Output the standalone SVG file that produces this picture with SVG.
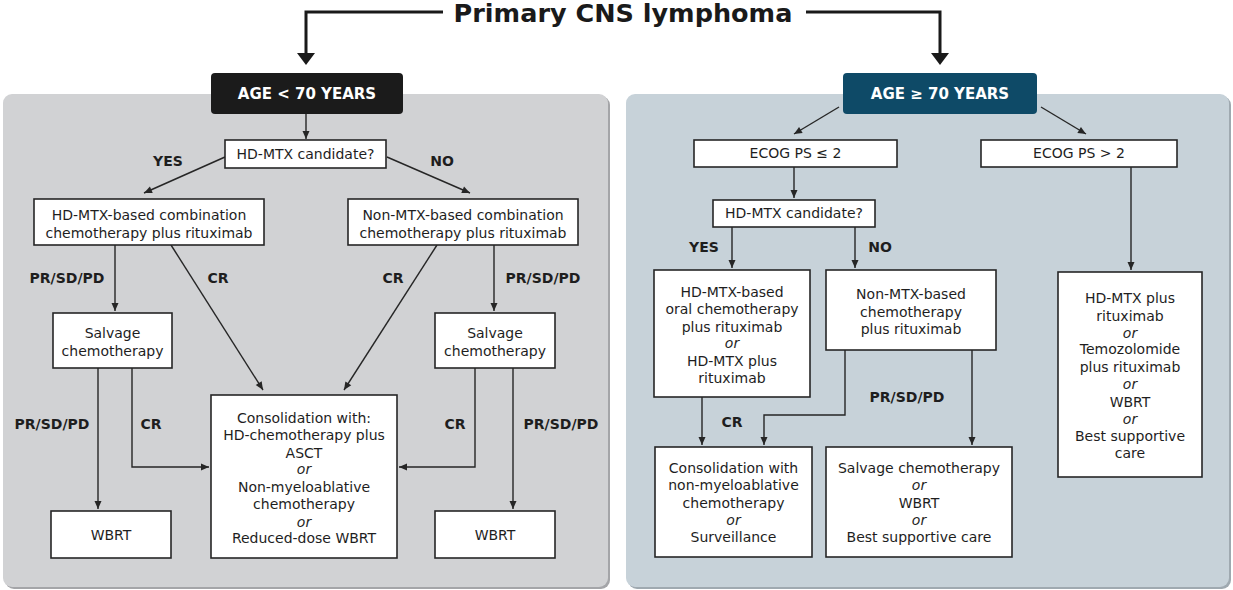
<svg xmlns="http://www.w3.org/2000/svg" width="1233" height="590" viewBox="0 0 1233 590">
<style>
.t{font-family:"DejaVu Sans","Liberation Sans",sans-serif;font-size:14px;fill:#1e1e1e;text-anchor:middle}
.i{font-style:italic}
.b{font-weight:bold}
.w{fill:#ffffff;font-weight:bold;font-size:15px}
.box{fill:#ffffff;stroke:#262626;stroke-width:1.6}
.ln{fill:none;stroke:#262626;stroke-width:1.4}
.thick{fill:none;stroke:#1a1a1a;stroke-width:3}
</style>
<defs>
<marker id="ah" markerUnits="userSpaceOnUse" markerWidth="10" markerHeight="10" viewBox="0 0 10 10" refX="9" refY="5" orient="auto">
<path d="M1,1.5 L9,5 L1,8.5 Z" fill="#262626"/>
</marker>
</defs>
<rect x="0" y="0" width="1233" height="590" fill="#ffffff"/>
<g id="panel-left">
<rect x="5" y="96" width="605" height="493" rx="9" fill="#a4a5a8"/>
<rect x="3" y="94" width="605" height="493" rx="9" fill="#d1d2d4"/>
</g>
<g id="panel-right">
<rect x="628" y="96" width="603" height="493" rx="9" fill="#9fa9b0"/>
<rect x="626" y="94" width="603" height="493" rx="9" fill="#c7d2d9"/>
</g>
<g id="title">
<text x="623" y="22" style="font-family:'DejaVu Sans','Liberation Sans',sans-serif;font-size:25.5px;font-weight:bold;fill:#1a1a1a" text-anchor="middle">Primary CNS lymphoma</text>
</g>
<g id="connectors">
<polyline class="thick" points="443,12 306,12 306,54"/>
<polygon points="297,53 315,53 306,65" fill="#1a1a1a"/>
<polyline class="thick" points="806,12 940,12 940,54"/>
<polygon points="931,53 949,53 940,65" fill="#1a1a1a"/>
<line class="ln" x1="306" y1="114" x2="306" y2="139" marker-end="url(#ah)"/>
<line class="ln" x1="225" y1="157" x2="144" y2="193" marker-end="url(#ah)"/>
<line class="ln" x1="387" y1="157" x2="470" y2="193" marker-end="url(#ah)"/>
<line class="ln" x1="115" y1="245" x2="115" y2="311" marker-end="url(#ah)"/>
<line class="ln" x1="171" y1="245" x2="263" y2="390" marker-end="url(#ah)"/>
<line class="ln" x1="437" y1="245" x2="344" y2="390" marker-end="url(#ah)"/>
<line class="ln" x1="494" y1="245" x2="494" y2="311" marker-end="url(#ah)"/>
<line class="ln" x1="98" y1="368" x2="98" y2="509" marker-end="url(#ah)"/>
<polyline class="ln" points="132,368 132,467 209,467" marker-end="url(#ah)"/>
<polyline class="ln" points="475,368 475,467 399,467" marker-end="url(#ah)"/>
<line class="ln" x1="513" y1="368" x2="513" y2="509" marker-end="url(#ah)"/>
<line class="ln" x1="839" y1="107" x2="794" y2="134" marker-end="url(#ah)"/>
<line class="ln" x1="1041" y1="107" x2="1086" y2="134" marker-end="url(#ah)"/>
<line class="ln" x1="794" y1="167" x2="794" y2="198" marker-end="url(#ah)"/>
<line class="ln" x1="732" y1="227" x2="732" y2="268" marker-end="url(#ah)"/>
<line class="ln" x1="855" y1="227" x2="855" y2="268" marker-end="url(#ah)"/>
<line class="ln" x1="1131" y1="167" x2="1131" y2="270" marker-end="url(#ah)"/>
<line class="ln" x1="702" y1="397" x2="702" y2="445" marker-end="url(#ah)"/>
<polyline class="ln" points="845,350 845,415 764,415 764,445" marker-end="url(#ah)"/>
<line class="ln" x1="972" y1="350" x2="972" y2="445" marker-end="url(#ah)"/>
<text class="t b" x="168" y="166">YES</text>
<text class="t b" x="442" y="166">NO</text>
<text class="t b" x="67" y="283">PR/SD/PD</text>
<text class="t b" x="218" y="283">CR</text>
<text class="t b" x="393" y="283">CR</text>
<text class="t b" x="543" y="283">PR/SD/PD</text>
<text class="t b" x="52" y="429">PR/SD/PD</text>
<text class="t b" x="151" y="429">CR</text>
<text class="t b" x="455" y="429">CR</text>
<text class="t b" x="561" y="429">PR/SD/PD</text>
<text class="t b" x="704" y="252">YES</text>
<text class="t b" x="880" y="252">NO</text>
<text class="t b" x="732" y="427">CR</text>
<text class="t b" x="907" y="402">PR/SD/PD</text>
</g>
<g id="age-lt-70">
<rect x="211" y="73" width="192" height="41" rx="4" fill="#1b1b1b"/>
<text class="t w" x="307" y="99">AGE &lt; 70 YEARS</text>
</g>
<g id="hdmtx-cand-left">
<rect class="box" x="225" y="140" width="161" height="28"/>
<text class="t" x="305.5" y="159">HD-MTX candidate?</text>
</g>
<g id="hdmtx-combo">
<rect class="box" x="34" y="199" width="230" height="46"/>
<text class="t" x="149" y="220">HD-MTX-based combination</text>
<text class="t" x="149" y="238">chemotherapy plus rituximab</text>
</g>
<g id="nonmtx-combo">
<rect class="box" x="348" y="199" width="230" height="46"/>
<text class="t" x="463" y="220">Non-MTX-based combination</text>
<text class="t" x="463" y="238">chemotherapy plus rituximab</text>
</g>
<g id="salvage-left">
<rect class="box" x="53" y="313" width="119" height="55"/>
<text class="t" x="112.5" y="338">Salvage</text>
<text class="t" x="112.5" y="356">chemotherapy</text>
</g>
<g id="salvage-right">
<rect class="box" x="435" y="313" width="120" height="55"/>
<text class="t" x="495" y="338">Salvage</text>
<text class="t" x="495" y="356">chemotherapy</text>
</g>
<g id="consolidation-left">
<rect class="box" x="211" y="395" width="186" height="163"/>
<text class="t" x="304" y="423">Consolidation with:</text>
<text class="t" x="304" y="440">HD-chemotherapy plus</text>
<text class="t" x="304" y="458">ASCT</text>
<text class="t i" x="304" y="474">or</text>
<text class="t" x="304" y="492">Non-myeloablative</text>
<text class="t" x="304" y="509">chemotherapy</text>
<text class="t i" x="304" y="527">or</text>
<text class="t" x="304" y="543">Reduced-dose WBRT</text>
</g>
<g id="wbrt-left">
<rect class="box" x="51" y="511" width="120" height="47"/>
<text class="t" x="111" y="540">WBRT</text>
</g>
<g id="wbrt-right">
<rect class="box" x="435" y="511" width="120" height="47"/>
<text class="t" x="495" y="540">WBRT</text>
</g>
<g id="age-ge-70">
<rect x="843" y="73" width="194" height="41" rx="4" fill="#0e4a67"/>
<text class="t w" x="940" y="99">AGE ≥ 70 YEARS</text>
</g>
<g id="ecog-le-2">
<rect class="box" x="694" y="140" width="203" height="27"/>
<text class="t" x="795.5" y="158">ECOG PS ≤ 2</text>
</g>
<g id="ecog-gt-2">
<rect class="box" x="981" y="140" width="196" height="27"/>
<text class="t" x="1079" y="158">ECOG PS &gt; 2</text>
</g>
<g id="hdmtx-cand-right">
<rect class="box" x="713" y="200" width="162" height="27"/>
<text class="t" x="794" y="218">HD-MTX candidate?</text>
</g>
<g id="hdmtx-oral">
<rect class="box" x="654" y="270" width="156" height="127"/>
<text class="t" x="732" y="297">HD-MTX-based</text>
<text class="t" x="732" y="314">oral chemotherapy</text>
<text class="t" x="732" y="332">plus rituximab</text>
<text class="t i" x="732" y="348">or</text>
<text class="t" x="732" y="366">HD-MTX plus</text>
<text class="t" x="732" y="383">rituximab</text>
</g>
<g id="nonmtx-right">
<rect class="box" x="826" y="270" width="170" height="80"/>
<text class="t" x="911" y="299">Non-MTX-based</text>
<text class="t" x="911" y="317">chemotherapy</text>
<text class="t" x="911" y="334">plus rituximab</text>
</g>
<g id="consolidation-right">
<rect class="box" x="655" y="447" width="157" height="110"/>
<text class="t" x="733.5" y="473">Consolidation with</text>
<text class="t" x="733.5" y="490">non-myeloablative</text>
<text class="t" x="733.5" y="508">chemotherapy</text>
<text class="t i" x="733.5" y="525">or</text>
<text class="t" x="733.5" y="542">Surveillance</text>
</g>
<g id="salvage-options">
<rect class="box" x="826" y="447" width="186" height="110"/>
<text class="t" x="919" y="473">Salvage chemotherapy</text>
<text class="t i" x="919" y="490">or</text>
<text class="t" x="919" y="508">WBRT</text>
<text class="t i" x="919" y="525">or</text>
<text class="t" x="919" y="542">Best supportive care</text>
</g>
<g id="ecog-gt-2-options">
<rect class="box" x="1058" y="272" width="144" height="205"/>
<text class="t" x="1130" y="303">HD-MTX plus</text>
<text class="t" x="1130" y="321">rituximab</text>
<text class="t i" x="1130" y="338">or</text>
<text class="t" x="1130" y="354">Temozolomide</text>
<text class="t" x="1130" y="372">plus rituximab</text>
<text class="t i" x="1130" y="389">or</text>
<text class="t" x="1130" y="407">WBRT</text>
<text class="t i" x="1130" y="424">or</text>
<text class="t" x="1130" y="441">Best supportive</text>
<text class="t" x="1130" y="458">care</text>
</g>
</svg>
